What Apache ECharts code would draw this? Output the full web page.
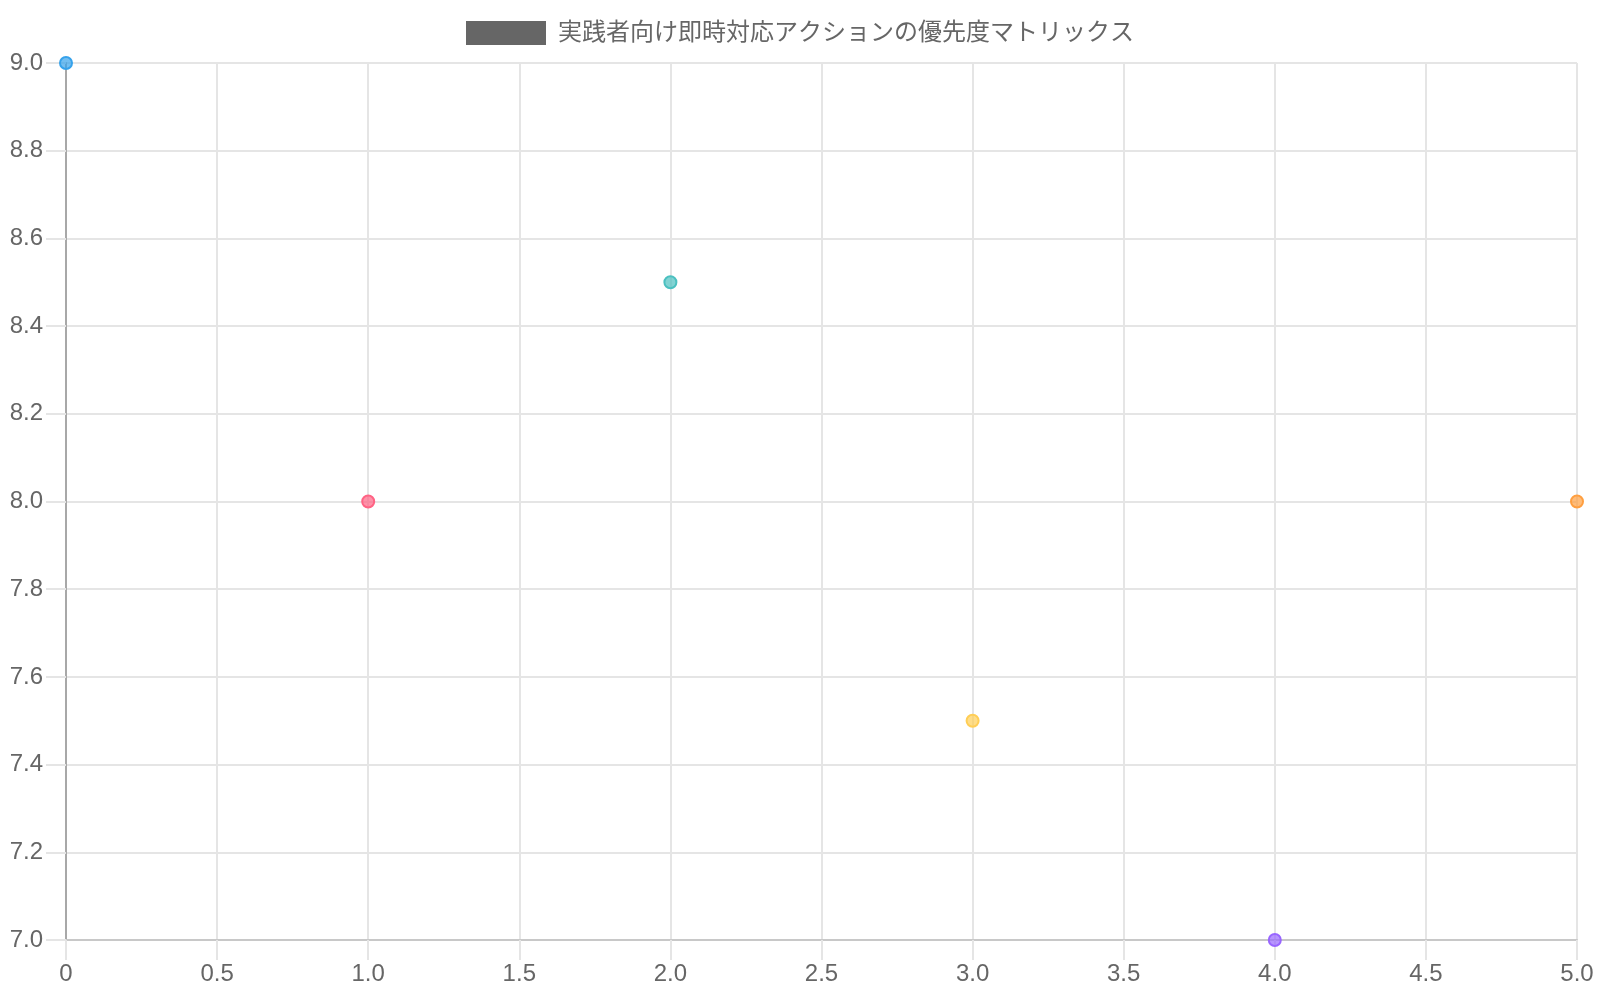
<!DOCTYPE html>
<html>
<head>
<meta charset="utf-8">
<script src="https://cdn.jsdelivr.net/npm/echarts@6/dist/echarts.min.js"></script>
<style>
html,body{margin:0;padding:0;background:#fff;}
#chart{width:1600px;height:1000px;}
</style>
</head>
<body>
<div id="chart"></div>
<script>
const seriesName = '実践者向け即時対応アクションの優先度マトリックス';
const xValues = [0, 1, 2, 3, 4, 5];
const yValues = [9.0, 8.0, 8.5, 7.5, 7.0, 8.0];
const pointColors = [
  [54, 162, 235],
  [255, 99, 132],
  [75, 192, 192],
  [255, 206, 86],
  [153, 102, 255],
  [255, 159, 64]
];
const xMin = 0, xMax = 5, xStep = 0.5;
const yMin = 7, yMax = 9, yStep = 0.2;

const FONT = "'Liberation Sans', 'Noto Sans CJK JP', Arial, sans-serif";
const data = xValues.map((x, i) => {
  const c = pointColors[i];
  return {
    value: [x, yValues[i]],
    itemStyle: {
      color: `rgba(${c[0]},${c[1]},${c[2]},0.7)`,
      borderColor: `rgb(${c[0]},${c[1]},${c[2]})`,
      borderWidth: 2,
      opacity: 1
    }
  };
});

const chart = echarts.init(document.getElementById('chart'));
chart.setOption({
  animation: false,
  textStyle: { fontFamily: FONT },
  legend: {
    top: 16,
    left: 'center',
    itemWidth: 80,
    itemHeight: 24,
    itemGap: 20,
    icon: 'rect',
    itemStyle: { color: '#666666', borderWidth: 0, opacity: 1 },
    data: [{ name: seriesName, itemStyle: { color: '#666666', borderWidth: 0, opacity: 1 } }],
    textStyle: { fontSize: 24, color: '#666666', fontFamily: FONT, padding: [0, 0, 0, 7] }
  },
  grid: { left: 66, right: 23, top: 63, bottom: 60, containLabel: false },
  xAxis: {
    type: 'value',
    min: xMin, max: xMax, interval: xStep,
    axisLine: { show: true, onZero: false, lineStyle: { color: '#c8c8c8', width: 2 } },
    axisTick: { show: true, length: 20, lineStyle: { color: '#e5e5e5', width: 2 } },
    splitLine: { show: true, lineStyle: { color: '#e5e5e5', width: 2 } },
    axisLabel: {
      fontSize: 24, color: '#666666', margin: 22, fontFamily: FONT,
      formatter: v => (v === 0 ? '0' : v.toFixed(1))
    }
  },
  yAxis: {
    type: 'value',
    min: yMin, max: yMax, interval: yStep,
    axisLine: { show: true, onZero: false, lineStyle: { color: '#a8a8a8', width: 2 } },
    axisTick: { show: true, length: 20, lineStyle: { color: '#e5e5e5', width: 2 } },
    splitLine: { show: true, lineStyle: { color: '#e5e5e5', width: 2 } },
    axisLabel: {
      fontSize: 24, color: '#666666', margin: 23, fontFamily: FONT,
      formatter: v => v.toFixed(1)
    }
  },
  series: [{
    name: seriesName,
    type: 'scatter',
    symbol: 'circle',
    symbolSize: 12,
    clip: false,
    itemStyle: { color: '#666666', opacity: 1 },
    emphasis: { disabled: true },
    data: data
  }]
});
</script>
</body>
</html>
